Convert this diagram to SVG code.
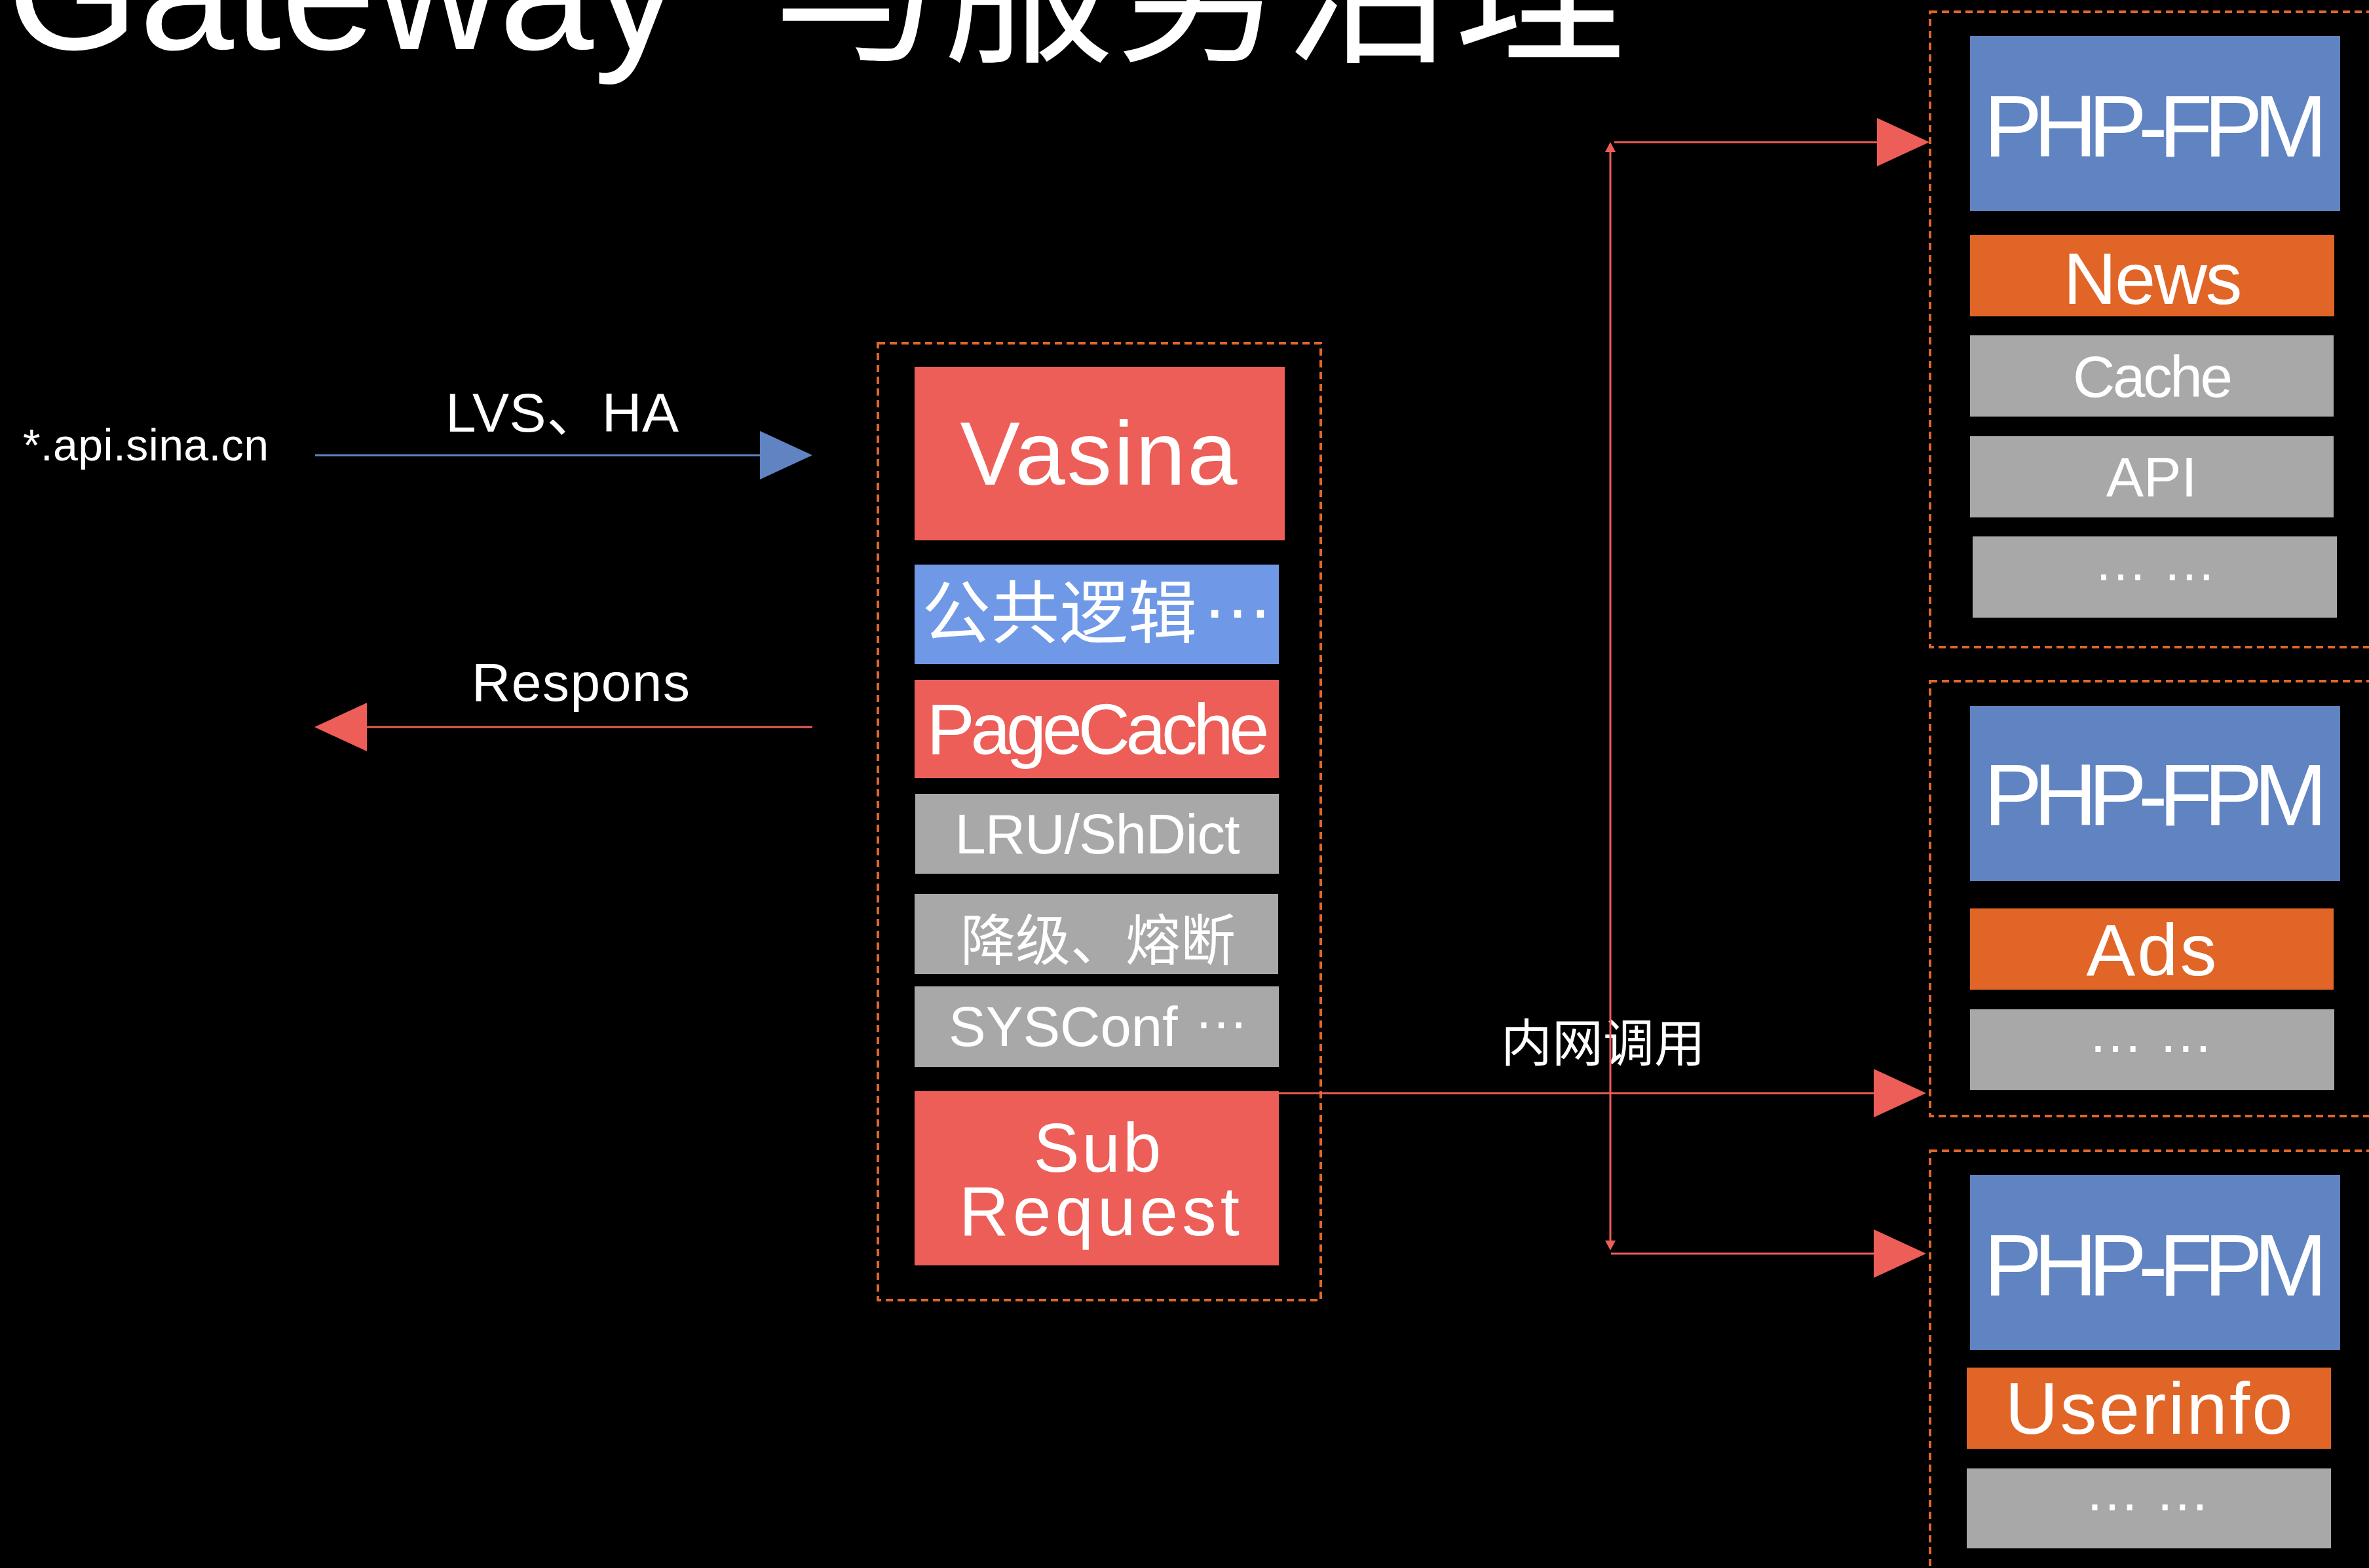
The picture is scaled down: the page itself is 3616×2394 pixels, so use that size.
<svg xmlns="http://www.w3.org/2000/svg" width="3616" height="2394" viewBox="0 0 3616 2394">
  <style>
    .txt { fill: #ffffff; font-family: "Liberation Sans", "Noto Sans CJK SC", sans-serif; }
    .cjk { fill: #ffffff; font-family: "Noto Sans CJK SC", "Liberation Sans", sans-serif; }
    .mid { text-anchor: middle; }
    .red { fill: #EC5E57; }
    .blue { fill: #6083C1; }
    .lblue { fill: #6F98E6; }
    .orange { fill: #E06526; }
    .grey { fill: #A7A8A7; }
    .frame { fill: none; stroke: #E0662A; stroke-width: 4; stroke-dasharray: 11 7; }
    .wire { fill: none; stroke: #EC5E57; stroke-width: 3; }
    .fpm { font-size: 134px; }
  </style>
  <defs>
    <marker id="bigRed" markerUnits="userSpaceOnUse" markerWidth="81" markerHeight="74" refX="0" refY="37" orient="auto">
      <path d="M0,0 L80,37 L0,74 z" fill="#EC5E57"/>
    </marker>
    <marker id="bigBlue" markerUnits="userSpaceOnUse" markerWidth="81" markerHeight="74" refX="0" refY="37" orient="auto">
      <path d="M0,0 L80,37 L0,74 z" fill="#6083C1"/>
    </marker>
    <marker id="smallRed" markerUnits="userSpaceOnUse" markerWidth="16" markerHeight="16" refX="0" refY="8" orient="auto-start-reverse">
      <path d="M0,0 L15,8 L0,16 z" fill="#EC5E57"/>
    </marker>
  </defs>

  <rect x="0" y="0" width="3616" height="2394" fill="#000000"/>

  <!-- heading, partly above the top edge -->
  <g id="title">
    <text class="txt" x="10" y="75" font-size="260">Gateway<tspan class="cjk" x="1180">与服务治理</tspan></text>
  </g>

  <!-- client side labels -->
  <g id="client">
    <text class="txt" x="35" y="703" font-size="68" textLength="375">*.api.sina.cn</text>
  </g>
  <g id="label-lvs">
    <text class="txt" x="680" y="659" font-size="84" textLength="356">LVS、HA</text>
  </g>
  <g id="label-respons">
    <text class="txt" x="720" y="1070" font-size="82" textLength="333">Respons</text>
  </g>

  <!-- gateway stack -->
  <g id="gateway">
    <rect class="frame" x="1340" y="524" width="676" height="1461"/>
    <g id="vasina">
      <rect class="red" x="1396" y="560" width="565" height="265"/>
      <text class="txt mid" x="1677" y="740" font-size="137" textLength="423">Vasina</text>
    </g>
    <g id="common-logic">
      <rect class="lblue" x="1396" y="862" width="556" height="152"/>
      <text class="cjk" x="1407" y="973" font-size="105">公共逻辑<tspan class="txt" x="1834" y="943" font-size="110">…</tspan></text>
    </g>
    <g id="pagecache">
      <rect class="red" x="1396" y="1038" width="556" height="150"/>
      <text class="txt mid" x="1676" y="1151" font-size="110" textLength="523">PageCache</text>
    </g>
    <g id="lru">
      <rect class="grey" x="1397" y="1212" width="555" height="122"/>
      <text class="txt mid" x="1675" y="1303" font-size="85" textLength="435">LRU/ShDict</text>
    </g>
    <g id="degrade">
      <rect class="grey" x="1396" y="1365" width="555" height="122"/>
      <text class="cjk mid" x="1676" y="1466" font-size="84">降级、熔断</text>
    </g>
    <g id="sysconf">
      <rect class="grey" x="1396" y="1506" width="556" height="123"/>
      <text class="txt" x="1448" y="1597" font-size="85">SYSConf<tspan x="1822" y="1570" font-size="84">…</tspan></text>
    </g>
    <g id="subrequest">
      <rect class="red" x="1396" y="1666" width="556" height="266"/>
      <text class="txt mid" x="1675" y="1789" font-size="105" textLength="195">Sub</text>
      <text class="txt mid" x="1678" y="1886" font-size="105" textLength="428">Request</text>
    </g>
  </g>

  <!-- backend pool: news -->
  <g id="pool-news">
    <rect class="frame" x="2946" y="18" width="760" height="970"/>
    <rect class="blue" x="3007" y="55" width="565" height="267"/>
    <text class="txt mid fpm" x="3290" y="239" textLength="524">PHP-FPM</text>
    <rect class="orange" x="3007" y="359" width="556" height="124"/>
    <text class="txt mid" x="3286" y="464" font-size="112" textLength="273">News</text>
    <rect class="grey" x="3007" y="512" width="555" height="124"/>
    <text class="txt mid" x="3286" y="606" font-size="89" textLength="244">Cache</text>
    <rect class="grey" x="3007" y="666" width="555" height="124"/>
    <text class="txt mid" x="3284" y="758" font-size="86">API</text>
    <rect class="grey" x="3011" y="819" width="556" height="124"/>
    <text class="txt" x="3196" y="886" font-size="82">… …</text>
  </g>

  <!-- backend pool: ads -->
  <g id="pool-ads">
    <rect class="frame" x="2946" y="1040" width="760" height="664"/>
    <rect class="blue" x="3007" y="1078" width="565" height="267"/>
    <text class="txt mid fpm" x="3290" y="1260" textLength="524">PHP-FPM</text>
    <rect class="orange" x="3007" y="1387" width="555" height="124"/>
    <text class="txt mid" x="3284" y="1489" font-size="112" textLength="199">Ads</text>
    <rect class="grey" x="3007" y="1541" width="556" height="123"/>
    <text class="txt" x="3187" y="1606" font-size="84">… …</text>
  </g>

  <!-- backend pool: userinfo -->
  <g id="pool-userinfo">
    <rect class="frame" x="2946" y="1757" width="760" height="700"/>
    <rect class="blue" x="3007" y="1794" width="565" height="267"/>
    <text class="txt mid fpm" x="3290" y="1978" textLength="524">PHP-FPM</text>
    <rect class="orange" x="3002" y="2088" width="556" height="124"/>
    <text class="txt mid" x="3280" y="2189" font-size="112" textLength="439">Userinfo</text>
    <rect class="grey" x="3002" y="2242" width="556" height="122"/>
    <text class="txt" x="3182" y="2306" font-size="84">… …</text>
  </g>

  <g id="label-intranet">
    <text class="cjk" x="2291" y="1621" font-size="78">内网调用</text>
  </g>

  <!-- connectors -->
  <g id="connectors">
    <line x1="481" y1="695" x2="1160" y2="695" stroke="#6083C1" stroke-width="3" marker-end="url(#bigBlue)"/>
    <line class="wire" x1="1240" y1="1110" x2="560" y2="1110" marker-end="url(#bigRed)"/>
    <line class="wire" x1="2464" y1="217" x2="2865" y2="217" marker-end="url(#bigRed)"/>
    <line class="wire" x1="1952" y1="1669" x2="2860" y2="1669" marker-end="url(#bigRed)"/>
    <line class="wire" x1="2459" y1="1914" x2="2860" y2="1914" marker-end="url(#bigRed)"/>
    <line class="wire" x1="2458" y1="232" x2="2458" y2="1894" stroke-width="2.5" marker-start="url(#smallRed)" marker-end="url(#smallRed)"/>
  </g>
</svg>
